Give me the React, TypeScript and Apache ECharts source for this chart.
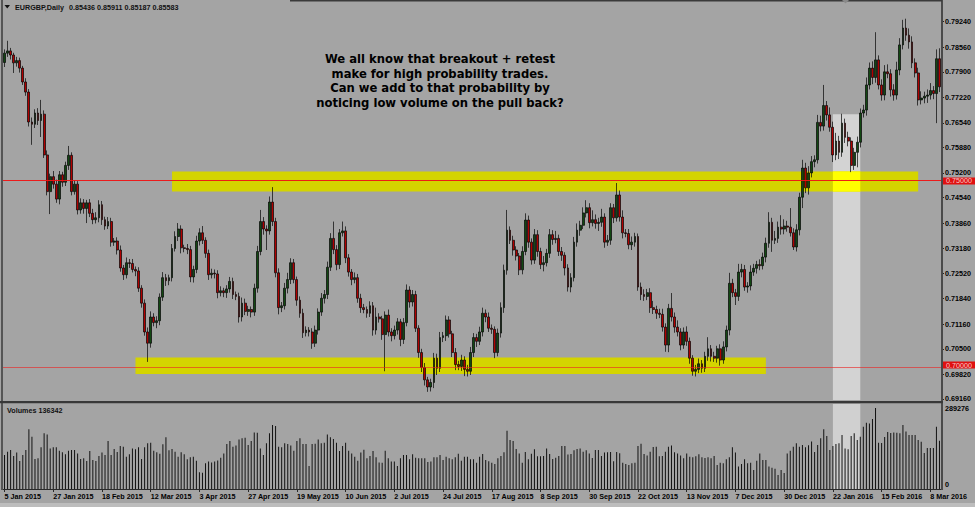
import React, { useEffect, useRef } from "react";
import * as echarts from "echarts";

// ---- data (prices in 1/10000, volumes in thousands) ----
const firstOpen = 7815;
const closes = [
  7840,7846,7835,7814,7820,7800,7763,7736,7656,7650,
  7680,7660,7677,7568,7470,7510,7490,7450,7515,7495,
  7540,7567,7470,7490,7421,7440,7425,7440,7412,7395,
  7400,7435,7395,7378,7390,7335,7338,7314,7266,7248,
  7280,7278,7262,7258,7212,7172,7095,7065,7135,7120,
  7125,7188,7240,7232,7240,7318,7350,7370,7320,7318,
  7315,7242,7262,7338,7360,7340,7305,7248,7252,7250,
  7200,7205,7200,7210,7230,7195,7190,7135,7172,7150,
  7155,7148,7212,7310,7390,7370,7365,7442,7390,7253,
  7160,7165,7212,7235,7280,7235,7180,7145,7093,7100,
  7095,7065,7100,7148,7185,7195,7268,7345,7315,7275,
  7360,7365,7293,7255,7235,7240,7185,7160,7155,7145,
  7165,7100,7135,7130,7088,7140,7095,7085,7100,7122,
  7075,7120,7207,7175,7195,7105,7040,7000,6967,6948,
  6960,7025,6998,7080,7085,7127,7090,7040,7008,7003,
  7020,6995,6990,7040,7080,7070,7095,7145,7135,7105,
  7102,7040,7092,7160,7260,7367,7340,7314,7298,7261,
  7310,7394,7335,7287,7355,7310,7275,7280,7305,7355,
  7342,7345,7310,7300,7266,7215,7240,7335,7367,7380,
  7413,7427,7387,7395,7385,7388,7402,7335,7340,7427,
  7400,7461,7402,7360,7358,7328,7335,7350,7215,7195,
  7190,7200,7160,7155,7145,7142,7108,7060,7158,7135,
  7108,7095,7060,7095,7070,7025,6990,6995,7010,6998,
  7030,7050,7030,7025,7050,7020,7055,7100,7225,7200,
  7190,7255,7262,7215,7218,7255,7265,7275,7272,7295,
  7332,7388,7340,7345,7375,7370,7378,7375,7360,7322,
  7368,7455,7533,7480,7520,7550,7555,7655,7645,7700,
  7675,7642,7568,7605,7575,7653,7615,7605,7540,7575,
  7602,7680,7688,7755,7800,7775,7822,7755,7728,7790,
  7785,7742,7728,7795,7862,7907,7888,7870,7814,7787,
  7715,7720,7725,7728,7740,7732,7825,7750,
];
const upperWicks = [
  10,27,8,6,10,8,6,10,8,12,
  10,13,38,10,12,8,15,12,10,8,
  10,25,8,10,8,12,10,8,10,12,
  15,12,10,8,12,10,8,10,12,8,
  14,10,12,8,10,8,10,12,15,10,
  12,10,15,10,8,12,14,16,10,8,
  12,10,10,14,12,18,8,10,12,10,
  10,12,8,10,12,10,8,10,15,12,
  10,8,12,15,31,12,10,15,40,10,
  12,10,14,18,12,10,8,10,12,10,
  8,10,12,10,14,12,15,14,45,12,
  10,25,12,10,8,14,10,12,10,8,
  12,10,25,10,8,10,15,10,12,10,
  8,12,15,10,12,10,8,10,12,8,
  10,14,12,15,10,12,10,8,12,10,
  14,10,12,15,12,10,14,15,10,12,
  10,8,12,14,15,54,10,12,10,8,
  14,18,12,10,15,12,10,18,12,15,
  12,20,10,12,8,10,12,14,18,12,
  15,20,12,25,14,12,22,10,14,12,
  10,32,12,18,10,12,15,10,8,12,
  14,10,12,18,10,12,15,10,12,41,
  12,18,10,12,15,10,8,12,14,10,
  12,31,10,12,8,12,15,12,28,12,
  10,22,15,12,10,18,12,10,14,12,
  15,27,12,20,15,32,18,14,51,12,
  15,12,22,14,18,15,12,20,18,55,
  12,20,15,22,14,25,12,15,10,12,
  15,12,14,20,15,18,74,12,15,18,
  20,12,15,22,18,22,25,18,15,12,
  14,18,12,15,20,12,25,28,
];
const lowerWicks = [
  12,10,12,27,10,12,8,10,12,55,
  10,12,44,8,10,60,12,10,14,12,
  10,12,10,8,12,10,14,39,10,12,
  10,12,14,10,8,12,10,12,10,14,
  10,12,8,14,10,12,10,50,12,10,
  15,12,10,14,12,10,8,12,15,10,
  12,14,15,10,12,10,12,14,10,12,
  15,10,12,14,10,12,10,15,12,10,
  12,14,10,12,10,15,51,10,12,12,
  18,12,10,14,12,10,15,12,14,10,
  12,15,10,12,10,14,12,10,12,15,
  12,10,14,12,15,10,12,14,10,12,
  10,15,12,10,14,98,12,15,10,12,
  18,12,10,15,12,10,14,12,15,13,
  12,15,18,10,12,14,10,12,15,10,
  12,18,14,10,12,15,10,12,14,10,
  12,15,10,12,14,12,10,15,12,14,
  12,10,15,12,10,14,12,18,10,12,
  14,10,12,15,20,12,14,10,12,15,
  10,12,15,10,14,20,12,15,10,12,
  14,10,12,15,10,12,14,12,10,15,
  12,10,14,12,15,10,12,18,19,12,
  15,12,14,10,12,15,12,14,10,12,
  10,12,14,10,12,15,10,12,14,12,
  23,12,14,10,15,12,10,14,12,10,
  14,12,31,10,12,15,14,12,10,8,
  12,15,29,14,18,12,15,10,14,12,
  15,12,19,14,18,12,15,14,18,12,
  40,14,12,15,12,18,14,12,15,14,
  12,18,15,12,14,12,15,18,14,12,
  15,12,14,18,12,15,79,14,
];
const volumesK = [
  121,133,139,118,130,100,121,139,213,187,
  107,110,149,199,195,145,149,149,137,131,
  124,137,139,139,127,107,110,100,136,104,
  100,118,130,121,171,121,143,132,154,151,
  115,124,145,142,149,107,149,163,165,137,
  131,126,160,185,138,143,133,115,131,124,
  106,113,115,101,60,58,92,98,95,98,
  102,112,127,161,171,151,155,177,181,183,
  157,171,202,201,145,121,163,199,229,225,
  151,149,163,161,155,137,171,181,161,161,
  82,161,162,177,163,165,195,185,179,165,
  136,154,165,137,127,115,101,130,140,110,
  118,136,113,95,94,137,110,98,98,82,
  110,121,121,106,124,112,110,110,110,96,
  98,113,113,121,104,115,110,106,113,126,
  101,115,115,106,106,94,115,125,104,99,
  94,89,110,118,131,208,175,171,143,127,
  94,132,106,126,142,117,117,118,145,125,
  107,112,118,154,154,123,125,138,143,145,
  133,138,127,111,139,139,118,130,131,132,
  99,132,128,94,89,86,92,94,154,162,
  125,120,133,150,151,117,118,133,151,155,
  131,127,120,110,127,115,113,117,124,113,
  111,113,110,118,86,94,92,106,113,149,
  130,80,89,106,92,94,68,101,127,104,
  104,80,76,72,50,68,57,127,137,151,
  163,151,157,149,156,170,132,157,181,213,
  189,139,154,161,163,193,145,142,189,199,
  175,187,222,237,234,250,289,165,164,186,
  204,200,202,201,199,229,205,193,193,193,
  175,169,129,146,146,146,222,172,
];

const priceTicks = [0.7924, 0.7856, 0.779, 0.7722, 0.7654, 0.7588, 0.752, 0.7454, 0.7386, 0.7318, 0.7252, 0.7184, 0.7116, 0.705, 0.6982, 0.6916];
const dateTickLabels = [
  "5 Jan 2015", "27 Jan 2015", "18 Feb 2015", "12 Mar 2015", "3 Apr 2015", "27 Apr 2015",
  "19 May 2015", "10 Jun 2015", "2 Jul 2015", "24 Jul 2015", "17 Aug 2015", "8 Sep 2015",
  "30 Sep 2015", "22 Oct 2015", "13 Nov 2015", "7 Dec 2015", "30 Dec 2015", "22 Jan 2016",
  "15 Feb 2016", "8 Mar 2016",
];
const holidays = ["2015-12-25", "2016-01-01"];
const levelLines = [0.75, 0.7];
const upperZone = [0.747, 0.7524];
const lowerZone = [0.6983, 0.7027];
const upperZoneBars = [55, 300];
const lowerZoneBars = [43, 250];
const highlightBars = [272, 281];
const highlightTop = 0.7677;
const volumeTopLabel = 289276;
const headerSymbol = "EURGBP,Daily";
const headerValues = "0.85436 0.85911 0.85187 0.85583";
const volumeTitle = "Volumes 136342";
const noteLines = [
  "We all know that breakout + retest",
  "make for high probability trades.",
  "Can we add to that probability by",
  "noticing low volume on the pull back?",
];

// axis extents (layout of the price panel)
const priceMin = 0.69132;
const priceMax = 0.79713;

const MONTHS = ["Jan", "Feb", "Mar", "Apr", "May", "Jun", "Jul", "Aug", "Sep", "Oct", "Nov", "Dec"];
function tradingDays(n: number): string[] {
  const out: string[] = [];
  const d = new Date(Date.UTC(2015, 0, 5));
  while (out.length < n) {
    const wd = d.getUTCDay();
    const iso = d.toISOString().slice(0, 10);
    if (wd !== 0 && wd !== 6 && holidays.indexOf(iso) < 0) {
      out.push(`${d.getUTCDate()} ${MONTHS[d.getUTCMonth()]} ${d.getUTCFullYear()}`);
    }
    d.setUTCDate(d.getUTCDate() + 1);
  }
  return out;
}

export default function App() {
  const ref = useRef<HTMLDivElement>(null);
  useEffect(() => {
    if (!ref.current) return;
    const chart = echarts.init(ref.current, undefined, { renderer: "svg" });
    const cats = tradingDays(closes.length);
    const ohlc = closes.map((c, i) => {
      const o = i === 0 ? firstOpen : closes[i - 1];
      const hi = Math.max(o, c) + upperWicks[i];
      const lo = Math.min(o, c) - lowerWicks[i];
      return [o / 1e4, c / 1e4, lo / 1e4, hi / 1e4];
    });
    const vols = volumesK.map((v) => v * 1000);
    const volTop = 404, volBottom = 489, volLabelY = 408;
    const volMax = (volumeTopLabel * (volBottom - volTop)) / (volBottom - volLabelY);
    const font = "Liberation Sans";
    const fs = 7.2;
    const txt = { fontSize: fs, color: "#000", fontFamily: font, fontWeight: "bold" as const };
    const showTick = (i: number) => i % 16 === 0;
    const levelLabel = (v: number, dy: number) => ({
      show: true, position: "end", distance: 2, formatter: v.toFixed(5),
      backgroundColor: "#e01010", padding: [0, 4, 0, 3], lineHeight: 7, offset: [0, dy],
      fontSize: fs, fontFamily: font, color: "#f6c8c8", fontWeight: "normal",
    });

    const option: any = {
      animation: false,
      backgroundColor: "#a4a4a4",
      grid: [
        { left: 3, top: 4, width: 938, height: 396 },
        { left: 3, top: volTop, width: 938, height: volBottom - volTop },
      ],
      xAxis: [
        {
          type: "category", gridIndex: 0, data: cats, boundaryGap: true,
          axisLine: { show: false }, axisTick: { show: false }, axisLabel: { show: false }, splitLine: { show: false },
        },
        {
          type: "category", gridIndex: 1, data: cats, boundaryGap: true,
          axisLine: { show: true, lineStyle: { color: "#2a2a2a", width: 1 } },
          axisTick: { show: true, alignWithLabel: true, interval: showTick, length: 3, lineStyle: { color: "#2a2a2a" } },
          axisLabel: {
            interval: showTick,
            formatter: (v: string, i: number) => dateTickLabels[Math.round(i / 16)] ?? v,
            align: "left", margin: 4, ...txt,
          },
          splitLine: { show: false },
        },
      ],
      yAxis: [
        {
          type: "value", gridIndex: 0, position: "right", min: priceMin, max: priceMax, scale: true,
          axisLine: { show: false }, splitLine: { show: false },
          axisTick: { show: true, customValues: priceTicks, length: 3, lineStyle: { color: "#222" } },
          axisLabel: { customValues: priceTicks, formatter: (v: number) => v.toFixed(5), margin: 4, lineHeight: 7, ...txt },
        },
        {
          type: "value", gridIndex: 1, position: "right", min: 0, max: volMax,
          axisLine: { show: false }, splitLine: { show: false }, axisTick: { show: false },
          axisLabel: {
            customValues: [0, volumeTopLabel],
            formatter: (v: number) => (v === 0 ? "{z|0}" : String(volumeTopLabel)),
            rich: { z: { padding: [0, 0, 9, 0], ...txt } },
            margin: 4, ...txt,
          },
        },
      ],
      series: [
        {
          type: "line", xAxisIndex: 0, yAxisIndex: 0, data: [], z: 1, silent: true,
          markArea: {
            silent: true,
            itemStyle: { color: "#d3d3d3" },
            data: [[{ xAxis: cats[highlightBars[0]], yAxis: highlightTop }, { xAxis: cats[highlightBars[1]], yAxis: priceMin }]],
          },
        },
        {
          type: "line", xAxisIndex: 0, yAxisIndex: 0, data: [], z: 2, silent: true,
          markArea: {
            silent: true,
            itemStyle: { color: "#d4d400" },
            data: [
              [{ xAxis: cats[upperZoneBars[0]], yAxis: upperZone[1] }, { xAxis: cats[upperZoneBars[1]], yAxis: upperZone[0] }],
              [{ xAxis: cats[lowerZoneBars[0]], yAxis: lowerZone[1] }, { xAxis: cats[lowerZoneBars[1]], yAxis: lowerZone[0] }],
            ],
          },
        },
        {
          type: "line", xAxisIndex: 0, yAxisIndex: 0, data: [], z: 3, silent: true,
          markArea: {
            silent: true,
            itemStyle: { color: "#ffff00" },
            data: [[{ xAxis: cats[highlightBars[0]], yAxis: upperZone[1] }, { xAxis: cats[highlightBars[1]], yAxis: upperZone[0] }]],
          },
        },
        {
          type: "candlestick", xAxisIndex: 0, yAxisIndex: 0, data: ohlc, z: 5, barWidth: 2.3,
          itemStyle: { color: "#124812", color0: "#b00000", borderColor: "#050505", borderColor0: "#050505", borderWidth: 0.7 },
          markLine: {
            silent: true, symbol: "none", z: 6,
            data: [
              { yAxis: levelLines[0], lineStyle: { color: "rgba(240,20,20,0.95)", width: 1, type: "solid" }, label: levelLabel(levelLines[0], 0.5) },
              { yAxis: levelLines[1], lineStyle: { color: "rgba(235,35,35,0.62)", width: 1, type: "solid" }, label: levelLabel(levelLines[1], -2.5) },
            ],
          },
        },
        {
          type: "bar", xAxisIndex: 1, yAxisIndex: 1, data: vols, barWidth: 1, z: 2,
          itemStyle: { color: "#121212" },
        },
        {
          type: "line", xAxisIndex: 1, yAxisIndex: 1, data: [], z: 4, silent: true,
          markArea: {
            silent: true,
            itemStyle: { color: "rgba(235,235,235,0.62)" },
            data: [[{ xAxis: cats[highlightBars[0]], yAxis: volMax }, { xAxis: cats[highlightBars[1]], yAxis: 0 }]],
          },
        },
      ],
      graphic: [
        { type: "rect", shape: { x: 1, y: 0, width: 2, height: 490 }, style: { fill: "#555" }, z: 100 },
        { type: "rect", shape: { x: 941, y: 0, width: 2, height: 490 }, style: { fill: "#4a4a4a" }, z: 100 },
        { type: "rect", shape: { x: 290, y: 0, width: 652, height: 1.5 }, style: { fill: "#3a3a3a" }, z: 100 },
        { type: "rect", shape: { x: 0, y: 401, width: 943, height: 2.2 }, style: { fill: "#383838" }, z: 100 },
        { type: "rect", shape: { x: 0, y: 503, width: 975, height: 4 }, style: { fill: "#bdbdbd" }, z: 100 },
        { type: "polygon", shape: { points: [[4.5, 5], [10, 5], [7.25, 8.5]] }, style: { fill: "#111" }, z: 100 },
        { type: "polygon", shape: { points: [[842, 0], [849, 0], [845.5, 3.5]] }, style: { fill: "#8a8a8a" }, z: 100 },
        { type: "text", x: 15, y: 7, style: { text: headerSymbol, fill: "#111", font: `bold ${fs}px "${font}"`, textVerticalAlign: "middle" }, z: 100 },
        { type: "text", x: 69, y: 7, style: { text: headerValues, fill: "#111", font: `bold ${fs}px "${font}"`, textVerticalAlign: "middle" }, z: 100 },
        { type: "text", x: 7, y: 410, style: { text: volumeTitle, fill: "#111", font: `bold ${fs}px "${font}"`, textVerticalAlign: "middle" }, z: 100 },
        ...noteLines.map((t, k) => ({
          type: "text", x: 440, y: 59 + k * 14.5, z: 100,
          style: { text: t, fill: "#000", font: `bold 11.6px "DejaVu Sans"`, textAlign: "center", textVerticalAlign: "middle" },
        })),
      ],
    };
    chart.setOption(option);
    return () => chart.dispose();
  }, []);
  return <div ref={ref} style={{ position: "fixed", left: 0, top: 0, width: 975, height: 507 }} />;
}
